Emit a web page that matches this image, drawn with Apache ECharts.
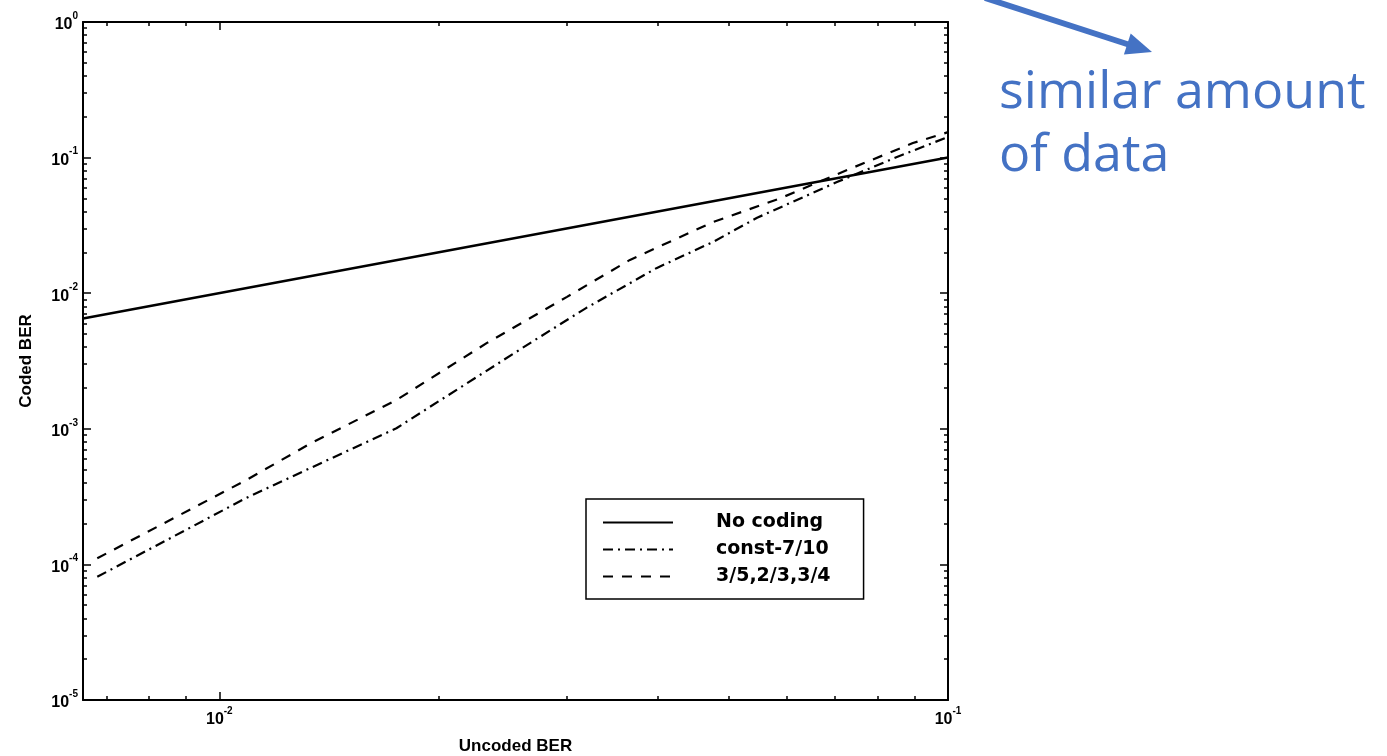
<!DOCTYPE html>
<html><head><meta charset="utf-8">
<script src="https://cdn.jsdelivr.net/npm/echarts@6/dist/echarts.min.js"></script>
<style>html,body{margin:0;padding:0;background:#fff}#c{width:1387px;height:756px}</style>
</head><body><div id="c"></div>
<script>
// ---- data ----
const seriesNames = ['No coding', 'const-7/10', '3/5,2/3,3/4'];
const noCoding = [[0.0065, 0.0065], [0.1, 0.1]];
const const710 = [[0.0068, 8.1e-5], [0.0109, 3.1e-4], [0.0134, 5.2e-4], [0.0175, 1.01e-3], [0.0269, 4.4e-3], [0.0319, 7.8e-3], [0.0398, 1.53e-2], [0.0476, 2.39e-2], [0.0547, 3.6e-2], [0.0704, 6.6e-2], [0.0851, 0.101], [0.1, 0.142]];
const rates = [[0.0068, 1.11e-4], [0.0109, 4.2e-4], [0.0134, 7.9e-4], [0.0175, 1.63e-3], [0.0233, 4.3e-3], [0.0300, 9.4e-3], [0.0366, 1.76e-2], [0.0476, 3.35e-2], [0.0588, 5.0e-2], [0.0727, 8.1e-2], [0.0895, 0.128], [0.1, 0.154]];
const xMajorTicks = [0.01, 0.1];
const xMinorTicks = [0.007, 0.008, 0.009, 0.02, 0.03, 0.04, 0.05, 0.06, 0.07, 0.08, 0.09];
const yMajorTicks = [1e-5, 1e-4, 1e-3, 1e-2, 1e-1, 1];
const yMinorTicks = [2e-5,3e-5,4e-5,5e-5,6e-5,7e-5,8e-5,9e-5,2e-4,3e-4,4e-4,5e-4,6e-4,7e-4,8e-4,9e-4,2e-3,3e-3,4e-3,5e-3,6e-3,7e-3,8e-3,9e-3,0.02,0.03,0.04,0.05,0.06,0.07,0.08,0.09,0.2,0.3,0.4,0.5,0.6,0.7,0.8,0.9];
const X_MIN = 0.0065, X_MAX = 0.1, Y_MIN = 1e-5, Y_MAX = 1;

const FONT = 'Liberation Sans';
const blue = '#4472C4';
const tickLine = {color: '#000', width: 1.5};
const axisLine = {show: true, lineStyle: {color: '#000', width: 2}};
const rich = {
  b: {fontFamily: FONT, fontWeight: 'bold', fontSize: 16, color: '#000', padding: [6, 0, 0, 0], verticalAlign: 'bottom'},
  s: {fontFamily: FONT, fontWeight: 'bold', fontSize: 10, color: '#000', lineHeight: 10, verticalAlign: 'top'}
};
function fmt(v) {
  const e = Math.round(Math.log10(v));
  return '{b|10}{s|' + (e === 0 ? '0' : String(e).replace('\u2212', '-')) + '}';
}
function mkAxis(kind, pos, major, withLabel) {
  const isX = kind === 'x';
  const a = {
    type: 'log', logBase: 10,
    min: isX ? X_MIN : Y_MIN, max: isX ? X_MAX : Y_MAX,
    position: pos,
    splitLine: {show: false},
    axisLine: major ? axisLine : {show: false},
    axisTick: {show: true, inside: true, length: major ? 8 : 4,
      customValues: isX ? (major ? xMajorTicks : xMinorTicks) : (major ? yMajorTicks : yMinorTicks),
      lineStyle: tickLine},
    axisLabel: {show: false}
  };
  if (withLabel) {
    a.axisLabel = {show: true, customValues: isX ? xMajorTicks : yMajorTicks, formatter: fmt, rich: rich, margin: isX ? 6 : 5};
  }
  return a;
}
const xb = mkAxis('x', 'bottom', true, true);
xb.name = 'Uncoded BER'; xb.nameLocation = 'middle'; xb.nameGap = 38;
xb.nameTextStyle = {fontFamily: FONT, fontWeight: 'bold', fontSize: 17, color: '#000'};
const yl = mkAxis('y', 'left', true, true);
yl.name = 'Coded BER'; yl.nameLocation = 'middle'; yl.nameGap = 48;
yl.nameTextStyle = {fontFamily: FONT, fontWeight: 'bold', fontSize: 17, color: '#000'};

const chart = echarts.init(document.getElementById('c'), null, {renderer: 'canvas'});
chart.setOption({
  backgroundColor: '#fff',
  animation: false,
  grid: {left: 83, right: 439, top: 22, bottom: 56, containLabel: false, outerBoundsMode: 'none'},
  xAxis: [xb, mkAxis('x', 'bottom', false, false), mkAxis('x', 'top', true, false), mkAxis('x', 'top', false, false)],
  yAxis: [yl, mkAxis('y', 'left', false, false), mkAxis('y', 'right', true, false), mkAxis('y', 'right', false, false)],
  legend: {
    orient: 'vertical', left: 586, top: 499,
    padding: [14, 33, 13, 16],
    itemWidth: 70, itemHeight: 18, itemGap: 8,
    borderColor: '#000', borderWidth: 1.5, backgroundColor: '#fff',
    itemStyle: {opacity: 0},
    textStyle: {fontFamily: 'DejaVu Sans', fontWeight: 'bold', fontSize: 19, color: '#000', padding: [0, 0, 0, 38]},
    data: seriesNames
  },
  series: [
    {name: seriesNames[0], type: 'line', data: noCoding, symbol: 'none', showSymbol: false,
     lineStyle: {color: '#000', width: 2.5, type: 'solid'}, itemStyle: {color: '#000'}},
    {name: seriesNames[1], type: 'line', data: const710, symbol: 'none', showSymbol: false,
     lineStyle: {color: '#000', width: 2.2, type: [10, 5, 2, 5]}, itemStyle: {color: '#000'}},
    {name: seriesNames[2], type: 'line', data: rates, symbol: 'none', showSymbol: false,
     lineStyle: {color: '#000', width: 2.2, type: [10, 9]}, itemStyle: {color: '#000'}}
  ],
  graphic: [
    {type: 'line', shape: {x1: 985, y1: -2, x2: 1130, y2: 45}, style: {stroke: blue, lineWidth: 6}},
    {type: 'polygon', shape: {points: [[1152, 52], [1130.7, 33.5], [1123.9, 54.5]]}, style: {fill: blue}},
    {type: 'text', x: 999, y: 67, style: {text: 'similar amount', fontFamily: 'Open Sans', fontWeight: 'normal', fontSize: 52, fill: blue}},
    {type: 'text', x: 999, y: 130, style: {text: 'of data', fontFamily: 'Open Sans', fontWeight: 'normal', fontSize: 52, fill: blue}}
  ]
});
</script></body></html>
